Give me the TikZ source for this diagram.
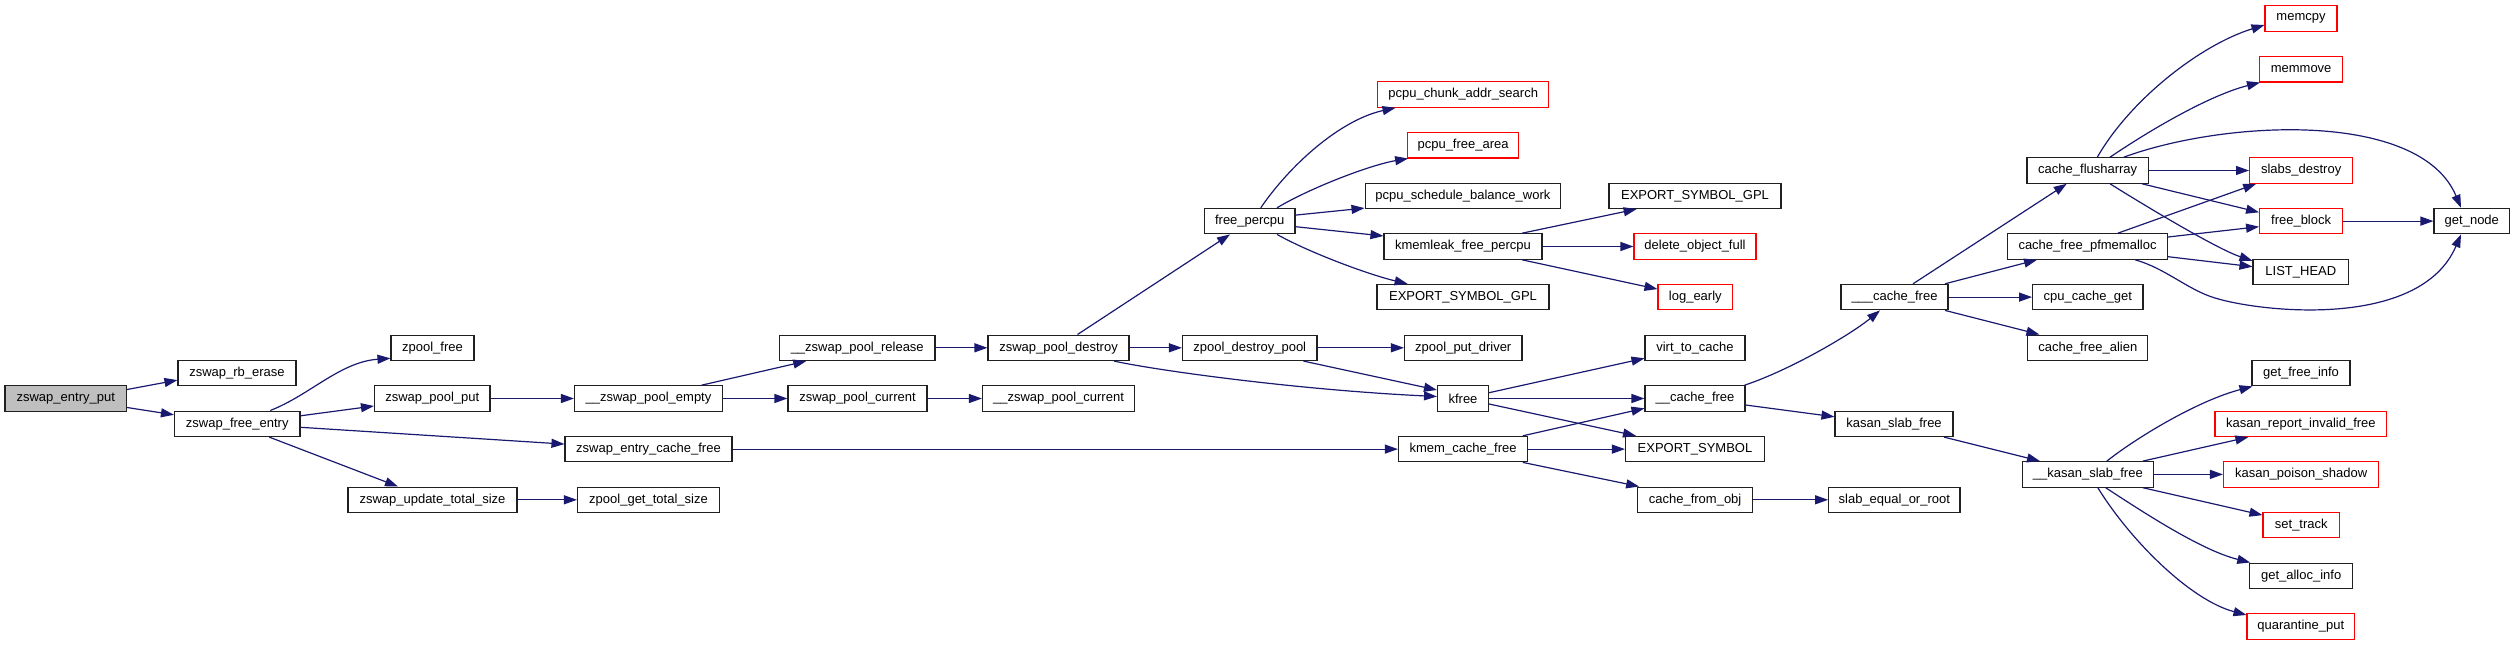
\documentclass[tikz,border=0pt]{standalone}
\usepackage{fontspec}
\setmainfont{Liberation Sans}
\usetikzlibrary{arrows.meta}
\definecolor{edgeblue}{HTML}{191970}
\definecolor{rootgrey}{HTML}{BFBFBF}
\definecolor{linkred}{HTML}{FF0000}
\definecolor{boxline}{HTML}{202020}
\begin{document}
\begin{tikzpicture}[x=1pt,y=-1pt,
  nb/.style={draw=boxline, line width=1.1pt, fill=white, minimum height=25.5pt, inner sep=0pt, font=\fontsize{13}{15}\selectfont, text=black},
  redbox/.style={nb, draw=linkred},
  rootbox/.style={nb, fill=rootgrey},
  e/.style={draw=edgeblue, line width=1.2pt, -{Triangle[length=13pt,width=9pt]}}]
\useasboundingbox (0,0) rectangle (2515,645);
% column 1-2
\node[rootbox, minimum width=121.5pt] (ep) at (65.75,398.5) {zswap\_entry\_put};
\node[nb, minimum width=118pt] (rbe) at (237,373.1) {zswap\_rb\_erase};
\node[nb, minimum width=125.5pt] (fe) at (237.25,423.8) {zswap\_free\_entry};
% column 3
\node[nb, minimum width=83pt] (zf) at (432.5,347.8) {zpool\_free};
\node[nb, minimum width=115.5pt] (pp) at (432.25,398.5) {zswap\_pool\_put};
\node[nb, minimum width=169pt] (uts) at (432.5,499.8) {zswap\_update\_total\_size};
% column 4
\node[nb, minimum width=148pt] (pe) at (648.5,398.5) {\_\_zswap\_pool\_empty};
\node[nb, minimum width=167pt] (ecf) at (648.5,449.1) {zswap\_entry\_cache\_free};
\node[nb, minimum width=142pt] (gts) at (648.5,499.8) {zpool\_get\_total\_size};
% column 5
\node[nb, minimum width=155.5pt] (rel) at (857.25,347.8) {\_\_zswap\_pool\_release};
\node[nb, minimum width=139pt] (pc) at (857.5,398.5) {zswap\_pool\_current};
% column 6
\node[nb, minimum width=141pt] (pd) at (1058.5,347.8) {zswap\_pool\_destroy};
\node[nb, minimum width=152pt] (upc) at (1058.5,398.5) {\_\_zswap\_pool\_current};
% column 7
\node[nb, minimum width=90.5pt] (fp) at (1249.75,221.1) {free\_percpu};
\node[nb, minimum width=134.5pt] (dp) at (1249.75,347.8) {zpool\_destroy\_pool};
% column 8
\node[redbox, minimum width=171pt] (pcas) at (1463.2,94.5) {pcpu\_chunk\_addr\_search};
\node[redbox, minimum width=111pt] (pfa) at (1463.1,145.2) {pcpu\_free\_area};
\node[nb, minimum width=195.7pt] (psbw) at (1462.9,195.8) {pcpu\_schedule\_balance\_work};
\node[nb, minimum width=158pt] (kfp) at (1463,246.5) {kmemleak\_free\_percpu};
\node[nb, minimum width=172pt] (esga) at (1463,297.1) {EXPORT\_SYMBOL\_GPL};
\node[nb, minimum width=117.5pt] (zpd) at (1463.25,347.8) {zpool\_put\_driver};
\node[nb, minimum width=51pt] (kf) at (1463,398.5) {kfree};
\node[nb, minimum width=129.3pt] (kcf) at (1463.1,449.1) {kmem\_cache\_free};
% column 9
\node[nb, minimum width=172pt] (esgb) at (1695,195.8) {EXPORT\_SYMBOL\_GPL};
\node[redbox, minimum width=122pt] (dof) at (1695,246.5) {delete\_object\_full};
\node[redbox, minimum width=74.6pt] (le) at (1695.3,297.1) {log\_early};
\node[nb, minimum width=100pt] (vtc) at (1695,347.8) {virt\_to\_cache};
\node[nb, minimum width=100pt] (cf) at (1695,398.5) {\_\_cache\_free};
\node[nb, minimum width=139pt] (es) at (1695,449.1) {EXPORT\_SYMBOL};
\node[nb, minimum width=114.8pt] (cfo) at (1695.1,499.8) {cache\_from\_obj};
% column 10
\node[nb, minimum width=107pt] (ccf) at (1894.5,297.1) {\_\_\_cache\_free};
\node[nb, minimum width=118pt] (ksf) at (1894,423.8) {kasan\_slab\_free};
\node[nb, minimum width=131.3pt] (seor) at (1894.3,499.8) {slab\_equal\_or\_root};
% column 11
\node[nb, minimum width=121.4pt] (cfa) at (2087.7,170.5) {cache\_flusharray};
\node[nb, minimum width=160pt] (pfm) at (2087.5,246.5) {cache\_free\_pfmemalloc};
\node[nb, minimum width=110.4pt] (ccg) at (2087.8,297.1) {cpu\_cache\_get};
\node[nb, minimum width=120pt] (cfal) at (2087.8,347.8) {cache\_free\_alien};
\node[nb, minimum width=130.8pt] (kas) at (2087.8,474.4) {\_\_kasan\_slab\_free};
% column 12
\node[redbox, minimum width=72pt] (mc) at (2301,18.5) {memcpy};
\node[redbox, minimum width=83pt] (mm) at (2301.1,69.2) {memmove};
\node[redbox, minimum width=103.1pt] (sd) at (2301.15,170.5) {slabs\_destroy};
\node[redbox, minimum width=83pt] (fb) at (2301.1,221.1) {free\_block};
\node[nb, minimum width=95.6pt] (lh) at (2300.8,271.8) {LIST\_HEAD};
\node[nb, minimum width=98pt] (gfi) at (2301,373.1) {get\_free\_info};
\node[redbox, minimum width=171.7pt] (krif) at (2300.85,423.8) {kasan\_report\_invalid\_free};
\node[redbox, minimum width=155.3pt] (kps) at (2301.15,474.4) {kasan\_poison\_shadow};
\node[redbox, minimum width=76.5pt] (st) at (2301.25,525.1) {set\_track};
\node[nb, minimum width=102.7pt] (gai) at (2301.15,575.8) {get\_alloc\_info};
\node[redbox, minimum width=107.6pt] (qp) at (2300.8,626.4) {quarantine\_put};
% column 13
\node[nb, minimum width=75.6pt] (gn) at (2471.8,221.1) {get\_node};

% edges
\draw[e] ([yshift=9pt]ep.east) -- ([yshift=-7pt]rbe.west);
\draw[e] ([yshift=-9pt]ep.east) -- ([yshift=9pt]fe.west);
\draw[e] ([xshift=33pt]fe.north) .. controls (310,395) and (340,362) .. ([yshift=-10.5pt]zf.west);
\draw[e] ([yshift=8pt]fe.east) -- ([yshift=-7.5pt]pp.west);
\draw[e] ([yshift=-3.5pt]fe.east) -- ([yshift=5pt]ecf.west);
\draw[e] ([xshift=32pt]fe.south) -- ([xshift=-34.5pt]uts.north);
\draw[e] (pp.east) -- (pe.west);
\draw[e] ([xshift=53pt]pe.north) -- ([xshift=-51pt]rel.south);
\draw[e] (pe.east) -- (pc.west);
\draw[e] (rel.east) -- (pd.west);
\draw[e] (pc.east) -- (upc.west);
\draw[e] ([xshift=19pt]pd.north) -- ([xshift=-19.75pt]fp.south);
\draw[e] (pd.east) -- (dp.west);
\draw[e] ([xshift=55.5pt]pd.south) .. controls (1160,371) and (1300,390) .. ([yshift=2pt]kf.west);
\draw[e] (dp.east) -- (zpd.west);
\draw[e] ([xshift=53.75pt]dp.south) -- ([yshift=8.5pt]kf.west);
\draw[e] (ecf.east) -- (kcf.west);
\draw[e] (uts.east) -- (gts.west);
% free_percpu
\draw[e] ([xshift=11pt]fp.north) .. controls (1290,165) and (1340,120) .. ([xshift=-67.7pt]pcas.south);
\draw[e] ([xshift=27.25pt]fp.north) .. controls (1310,188) and (1370,165) .. ([xshift=-55pt]pfa.south);
\draw[e] ([yshift=6pt]fp.east) -- ([yshift=1pt]psbw.south west);
\draw[e] ([yshift=-5.6pt]fp.east) -- ([yshift=10.5pt]kfp.west);
\draw[e] ([xshift=27.25pt]fp.south) .. controls (1310,253) and (1370,275) .. ([xshift=-55.4pt]esga.north);
% kmemleak
\draw[e] ([xshift=59pt]kfp.north) -- ([xshift=-58.4pt]esgb.south);
\draw[e] (kfp.east) -- (dof.west);
\draw[e] ([xshift=59pt]kfp.south) -- ([yshift=8pt]le.west);
% kfree
\draw[e] ([yshift=5.8pt]kf.east) -- ([yshift=-10.5pt]vtc.west);
\draw[e] (kf.east) -- (cf.west);
\draw[e] ([yshift=-5.5pt]kf.east) -- ([xshift=-59pt]es.north);
% kmem_cache_free
\draw[e] ([xshift=59.7pt]kcf.north) -- ([yshift=-9.8pt]cf.west);
\draw[e] (kcf.east) -- (es.west);
\draw[e] ([xshift=59.7pt]kcf.south) -- ([xshift=2pt]cfo.north west);
% __cache_free
\draw[e] ([xshift=-1pt]cf.north east) .. controls (1790,370) and (1850,335) .. ([xshift=-14.5pt]ccf.south);
\draw[e] ([yshift=-6.5pt]cf.east) -- ([yshift=7pt]ksf.west);
\draw[e] (cfo.east) -- (seor.west);
% ___cache_free
\draw[e] ([xshift=18.5pt]ccf.north) -- ([xshift=-21pt]cfa.south);
\draw[e] ([xshift=50.5pt]ccf.north) -- ([xshift=-50.5pt]pfm.south);
\draw[e] (ccf.east) -- (ccg.west);
\draw[e] ([xshift=50.5pt]ccf.south) -- ([xshift=-48.4pt]cfal.north);
\draw[e] ([xshift=50pt]ksf.south) -- ([xshift=-47.8pt]kas.north);
% cache_flusharray
\draw[e] ([xshift=9.6pt]cfa.north) .. controls (2130,100) and (2200,45) .. ([yshift=-6.5pt]mc.west);
\draw[e] ([xshift=22.3pt]cfa.north) .. controls (2150,130) and (2210,95) .. ([xshift=1pt]mm.south west);
\draw[e] ([xshift=36pt]cfa.north) .. controls (2225,120) and (2420,110) .. ([xshift=-10.8pt]gn.north);
\draw[e] (cfa.east) -- (sd.west);
\draw[e] ([xshift=54.3pt]cfa.south) -- ([yshift=8.8pt]fb.west);
\draw[e] ([xshift=22.3pt]cfa.south) .. controls (2160,215) and (2220,250) .. ([yshift=11pt]lh.west);
% cache_free_pfmemalloc
\draw[e] ([xshift=30.3pt]pfm.north) -- ([xshift=-45pt]sd.south);
\draw[e] ([yshift=9.5pt]pfm.east) -- ([yshift=-5.6pt]fb.west);
\draw[e] ([yshift=-10.2pt]pfm.east) -- ([yshift=5.1pt]lh.west);
\draw[e] ([xshift=47.5pt]pfm.south) .. controls (2165,268) and (2188,290) .. (2215,298)
  .. controls (2260,312) and (2420,330) .. ([xshift=-10.8pt]gn.south);
\draw[e] (fb.east) -- (gn.west);
% __kasan_slab_free
\draw[e] ([xshift=19pt]kas.north) .. controls (2140,435) and (2200,400) .. ([xshift=1pt]gfi.south west);
\draw[e] ([xshift=55pt]kas.north) -- ([xshift=-52.5pt]krif.south);
\draw[e] (kas.east) -- (kps.west);
\draw[e] ([xshift=55pt]kas.south) -- ([yshift=10pt]st.west);
\draw[e] ([xshift=17.8pt]kas.south) .. controls (2140,510) and (2200,550) .. ([xshift=1pt]gai.north west);
\draw[e] ([xshift=10pt]kas.south) .. controls (2130,540) and (2190,600) .. ([yshift=11.4pt]qp.west);
\end{tikzpicture}
\end{document}
